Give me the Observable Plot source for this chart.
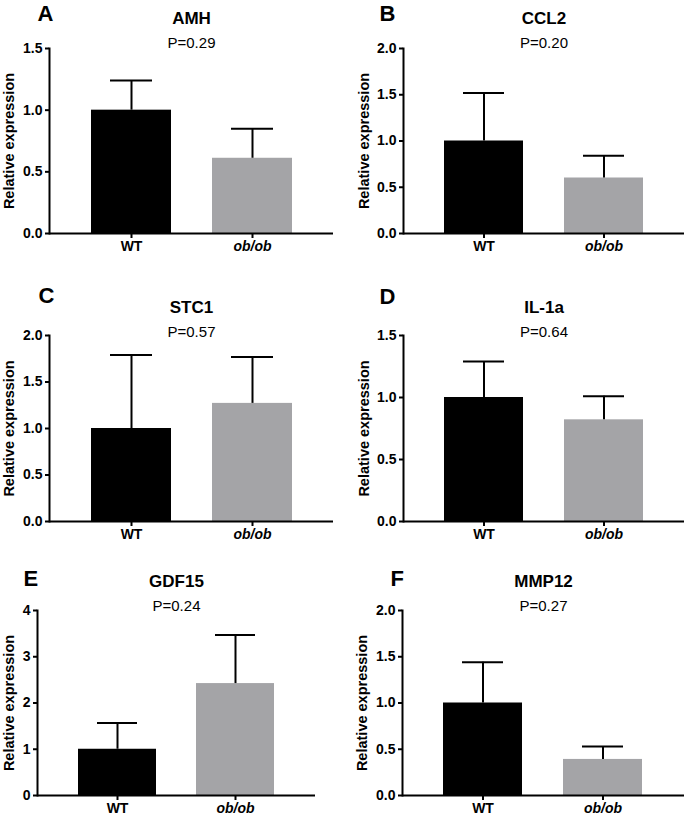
<!DOCTYPE html>
<html><head><meta charset="utf-8">
<script src="https://cdn.jsdelivr.net/npm/d3@7"></script>
<script src="https://cdn.jsdelivr.net/npm/@observablehq/plot@0.6"></script>
<style>
body{margin:0;background:#fff;}
#fig{position:relative;width:684px;height:816px;background:#fff;}
.panel{position:absolute;}
</style></head><body><div id="fig"></div>
<script>
// ---- data ----
const genes = ["AMH", "CCL2", "STC1", "IL-1a", "GDF15", "MMP12"];
const letters = ["A", "B", "C", "D", "E", "F"];
const pValues = ["P=0.29", "P=0.20", "P=0.57", "P=0.64", "P=0.24", "P=0.27"];
const groups = ["WT", "ob/ob"];
const wtMean = [1.0, 1.0, 1.0, 1.0, 1.0, 1.0];
const wtUpper = [1.24, 1.52, 1.79, 1.29, 1.57, 1.44];
const obMean = [0.61, 0.60, 1.27, 0.82, 2.42, 0.39];
const obUpper = [0.85, 0.84, 1.77, 1.01, 3.47, 0.53];
const yMax = [1.5, 2.0, 2.0, 1.5, 4, 2.0];
const yTicks = [
  [0, 0.5, 1.0, 1.5],
  [0, 0.5, 1.0, 1.5, 2.0],
  [0, 0.5, 1.0, 1.5, 2.0],
  [0, 0.5, 1.0, 1.5],
  [0, 1, 2, 3, 4],
  [0, 0.5, 1.0, 1.5, 2.0]
];
const yFormats = [".1f", ".1f", ".1f", ".1f", "d", ".1f"];
const barColors = ["#000000", "#a4a4a7"];

// ---- layout (panel placement & margins) ----
const layout = [
  {left: 0,   top: 0,   mL: 49, mR: 9,  mT: 48, mB: 39, lab: 47, let: [-12, -35], tit: [-30, -5]},
  {left: 342, top: 0,   mL: 61, mR: 0,  mT: 48, mB: 39, lab: 46, let: [-24, -35], tit: [-30, -5]},
  {left: 0,   top: 272, mL: 49, mR: 9,  mT: 63, mB: 23, lab: 47, let: [-11, -40], tit: [-28, -3]},
  {left: 342, top: 272, mL: 61, mR: 0,  mT: 63, mB: 23, lab: 46, let: [-24, -39], tit: [-28, -3]},
  {left: 0,   top: 544, mL: 37, mR: 27, mT: 66, mB: 21, lab: 35, let: [-14, -32], tit: [-29, -4]},
  {left: 342, top: 544, mL: 60, mR: 0,  mT: 66, mB: 21, lab: 47, let: [-12, -32], tit: [-29, -4]}
];

const fig = document.getElementById("fig");

genes.forEach((g, i) => {
  const rows = groups.map((grp, j) => ({
    group: grp,
    mean: j ? obMean[i] : wtMean[i],
    upper: j ? obUpper[i] : wtUpper[i]
  }));
  const L = layout[i];
  const plot = Plot.plot({
    width: 342,
    height: 272,
    marginLeft: L.mL,
    marginRight: L.mR,
    marginTop: L.mT,
    marginBottom: L.mB,
    style: {
      fontFamily: "'Liberation Sans', Arial, sans-serif",
      fontSize: "14px",
      fontWeight: "bold",
      color: "#000",
      background: "transparent",
      overflow: "visible"
    },
    x: {domain: groups, padding: 0.34, label: null},
    y: {domain: [0, yMax[i]]},
    color: {domain: groups, range: barColors},
    marks: [
      Plot.barY(rows, {x: "group", y: "mean", fill: "group"}),
      Plot.ruleX(rows, {x: "group", y1: "mean", y2: "upper", stroke: "#000", strokeWidth: 2}),
      Plot.tickY(rows, {x: "group", y: "upper", stroke: "#000", strokeWidth: 2, insetLeft: 19, insetRight: 19}),
      Plot.frame({anchor: "left", stroke: "#000", strokeWidth: 2}),
      Plot.ruleY([0], {stroke: "#000", strokeWidth: 2}),
      Plot.axisY({
        ticks: yTicks[i], tickFormat: yFormats[i], tickSize: 4, tickPadding: 3, strokeWidth: 2,
        fontSize: 14, fontWeight: "bold",
        label: null
      }),
      Plot.text(["Relative expression"], {
        text: d => d, frameAnchor: "left", dx: -L.lab + 7, rotate: -90,
        fontSize: 14.5, fontWeight: "bold", lineAnchor: "middle", textAnchor: "middle"
      }),
      Plot.axisX({tickSize: 5, tickPadding: 3, strokeWidth: 2, fontSize: 14, fontWeight: "bold", label: null}),
      Plot.text([genes[i]], {text: d => d, frameAnchor: "top", dy: L.tit[0], fontSize: 17, fontWeight: "bold", lineAnchor: "middle"}),
      Plot.text([pValues[i]], {text: d => d, frameAnchor: "top", dy: L.tit[1], fontSize: 15, fontWeight: "normal", lineAnchor: "middle"}),
      Plot.text([letters[i]], {text: d => d, frameAnchor: "top-left", dx: L.let[0], dy: L.let[1], fontSize: 22, fontWeight: "bold", textAnchor: "start", lineAnchor: "middle"})
    ]
  });
  d3.select(plot).selectAll("text").filter(function() { return this.textContent === "ob/ob"; })
    .style("font-style", "italic");
  const div = document.createElement("div");
  div.className = "panel";
  div.style.left = L.left + "px";
  div.style.top = L.top + "px";
  div.appendChild(plot);
  fig.appendChild(div);
});
</script>
</body></html>
